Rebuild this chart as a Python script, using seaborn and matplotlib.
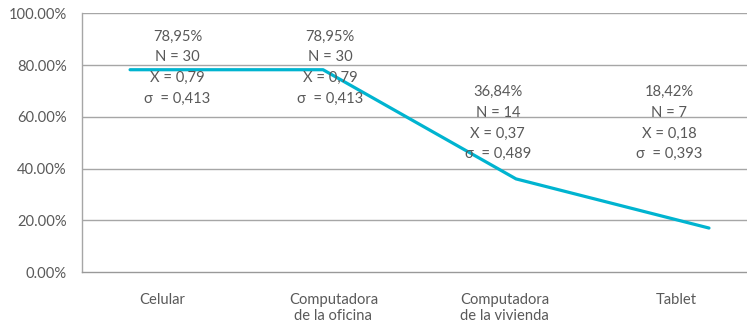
import numpy as np
import pandas as pd
import matplotlib
matplotlib.use("Agg")
import matplotlib.pyplot as plt
import seaborn as sns

categories = ["Celular", "Computadora\nde la oficina", "Computadora\nde la vivienda", "Tablet"]
line_values = [78.2, 78.2, 36.0, 17.0]
pct_labels = ["78,95%", "78,95%", "36,84%", "18,42%"]
n_labels = ["N = 30", "N = 30", "N = 14", "N = 7"]
mean_labels = ["X = 0,79", "X = 0,79", "X = 0,37", "X = 0,18"]
sd_labels = ["σ  = 0,413", "σ  = 0,413", "σ  = 0,489", "σ  = 0,393"]
y_ticks = [0, 20, 40, 60, 80, 100]
y_tick_labels = ["0.00%", "20.00%", "40.00%", "60.00%", "80.00%", "100.00%"]

# layout (annotation placement)
ann_x_offset = [0.09, -0.02, -0.04, -0.04]
ann_y_center = [78.95, 78.95, 57.5, 57.5]

sns.set_theme(style="white")
plt.rcParams["font.family"] = ["Lato", "DejaVu Sans"]
text_color = "#595959"
grid_color = "#A6A6A6"
fs = 10.6

fig = plt.figure(figsize=(7.47, 3.25), dpi=100)
ax = fig.add_axes([0.1098, 0.163, 0.8902, 0.796])

df = pd.DataFrame({"x": np.arange(len(categories)), "y": line_values})
sns.lineplot(data=df, x="x", y="y", ax=ax, color="#00B4D0", linewidth=2.3)
ax.set_xlim(-0.249, 3.197)
ax.set_ylim(0, 100)
ax.set_yticks(y_ticks)
ax.set_yticklabels(y_tick_labels, color=text_color, fontsize=fs)
ax.tick_params(axis="y", length=0, pad=11)
ax.set_xticks([])
ax.set_xlabel("")
ax.set_ylabel("")
for yv in y_ticks[1:]:
    ax.axhline(yv, color=grid_color, linewidth=1.0, zorder=0)
for s in ["top", "right"]:
    ax.spines[s].set_visible(False)
ax.spines["left"].set_color(grid_color)
ax.spines["bottom"].set_color("#999999")
ax.spines["left"].set_linewidth(1.0)
ax.spines["bottom"].set_linewidth(1.0)

ax2 = ax.twiny()
ax2.set_xlim(-0.467, 3.415)
ax2.xaxis.set_ticks_position("bottom")
ax2.xaxis.set_label_position("bottom")
ax2.set_xticks(np.arange(len(categories)))
ax2.set_xticklabels(categories, color=text_color, fontsize=fs, linespacing=1.2)
ax2.tick_params(axis="x", length=0, pad=15)
for s in ax2.spines.values():
    s.set_visible(False)

for i in range(len(categories)):
    txt = "\n".join([pct_labels[i], n_labels[i], mean_labels[i], sd_labels[i]])
    ax2.text(i + ann_x_offset[i], ann_y_center[i], txt, ha="center", va="center",
             color=text_color, fontsize=fs, linespacing=1.6, transform=ax2.transData)

fig.savefig("out.png", dpi=100)
